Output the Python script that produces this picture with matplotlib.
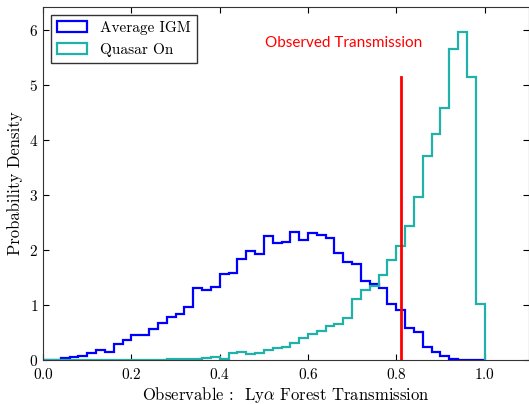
import numpy as np
import matplotlib
matplotlib.use('Agg')
import matplotlib.pyplot as plt

plt.rcParams['font.family'] = 'serif'
plt.rcParams['font.serif'] = ['cmr10']
plt.rcParams['mathtext.fontset'] = 'cm'
plt.rcParams['axes.formatter.use_mathtext'] = True

# histogram bin edges, transmission F in 0.02 steps
edges = np.linspace(0.0, 1.0, 51)

# probability density per bin
igm_avg = [0.00, 0.00, 0.03, 0.05, 0.08, 0.12, 0.18, 0.15, 0.29, 0.36,
           0.45, 0.46, 0.57, 0.67, 0.78, 0.84, 0.96, 1.31, 1.28, 1.33,
           1.56, 1.59, 1.84, 1.99, 1.92, 2.26, 2.13, 2.15, 2.33, 2.18,
           2.30, 2.28, 2.21, 1.94, 1.78, 1.75, 1.44, 1.38, 1.31, 1.01,
           0.91, 0.58, 0.50, 0.23, 0.14, 0.08, 0.01, 0.005, 0.00, 0.00]
quasar_on = [0.00, 0.00, 0.00, 0.00, 0.00, 0.00, 0.00, 0.00, 0.00, 0.00,
             0.00, 0.00, 0.00, 0.00, 0.01, 0.02, 0.02, 0.02, 0.03, 0.05,
             0.01, 0.12, 0.14, 0.11, 0.13, 0.18, 0.21, 0.24, 0.30, 0.40,
             0.47, 0.53, 0.61, 0.65, 0.77, 1.10, 1.28, 1.34, 1.55, 1.82,
             2.08, 2.44, 2.97, 3.70, 4.11, 4.59, 5.65, 5.97, 5.15, 1.02]

f_obs = 0.81
f_obs_top = 5.14

fig = plt.figure(figsize=(5.29, 4.04), dpi=100)
ax = fig.add_axes([0.0815, 0.109, 0.918, 0.874])

centers = 0.5 * (edges[:-1] + edges[1:])
ax.hist(centers, bins=edges, weights=igm_avg, histtype='step',
        color='#0000ff', lw=1.6, label='Average IGM')
ax.hist(centers, bins=edges, weights=quasar_on, histtype='step',
        color='#20b2aa', lw=1.6, label='Quasar On')
ax.plot([f_obs, f_obs], [0, f_obs_top], color='r', lw=2)
ax.text(0.68, 5.76, 'Observed Transmission', color='r', fontsize=11,
        family='Lato', ha='center', va='center')

ax.set_xlim(0, 1.1)
ax.set_ylim(0, 6.42)
ax.set_xticks([0.0, 0.2, 0.4, 0.6, 0.8, 1.0])
ax.set_yticks([0, 1, 2, 3, 4, 5, 6])
ax.tick_params(direction='in', top=True, right=True, labelsize=11, length=4)
ax.tick_params(axis='x', pad=5)
for s in ax.spines.values():
    s.set_color('#333333')

ax.set_xlabel(r'Observable :  Ly$\alpha$ Forest Transmission', fontsize=12,
              labelpad=2)
ax.set_ylabel('Probability Density', fontsize=12)

leg = ax.legend(loc='upper left', fontsize=11, fancybox=False,
                edgecolor='#333333', framealpha=1, handlelength=2.0,
                labelspacing=0.55, borderaxespad=0.5)

fig.savefig('out.png')
